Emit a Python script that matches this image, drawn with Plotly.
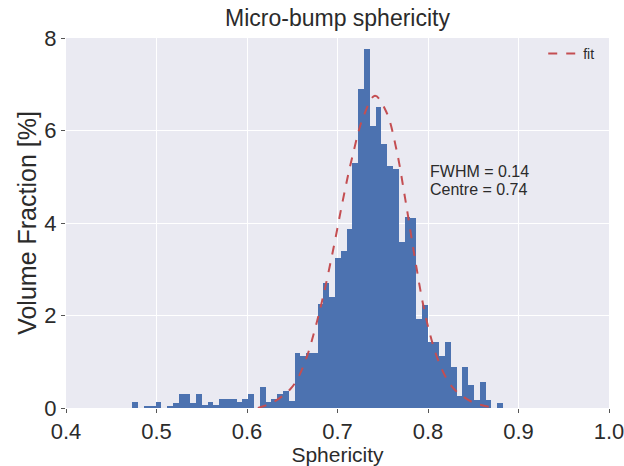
import plotly.graph_objects as go

# histogram data (volume fraction, %)
bin_start = 0.4733
bin_width = 0.0064
volume_fraction = [
    0.13, 0.0, 0.05, 0.05, 0.12, 0.0, 0.05, 0.115, 0.3, 0.3,
    0.115, 0.3, 0.06, 0.13, 0.07, 0.2, 0.2, 0.2, 0.13, 0.2,
    0.3, 0.0, 0.45, 0.13, 0.2, 0.3, 0.37, 0.15, 1.18, 1.12,
    1.18, 1.18, 2.24, 2.7, 2.4, 3.25, 3.4, 3.88, 5.3, 6.89,
    7.76, 6.1, 6.5, 5.7, 5.24, 5.17, 3.58, 4.12, 4.1, 1.92,
    2.23, 1.43, 1.43, 1.12, 1.43, 0.88, 0.26, 0.88, 0.5, 0.18,
    0.57, 0.17, 0.0, 0.1,
]
bin_centers = [bin_start + bin_width * (i + 0.5) for i in range(len(volume_fraction))]

# fit curve points
fit_x = [0.612, 0.620, 0.631, 0.640, 0.6475, 0.655, 0.666, 0.675, 0.684, 0.695,
         0.706, 0.716, 0.7286, 0.7414, 0.754, 0.765, 0.775, 0.785, 0.795, 0.805,
         0.815, 0.825, 0.835, 0.850, 0.869]
fit_y = [0.0, 0.05, 0.15, 0.27, 0.4, 0.6, 1.1, 1.7, 2.4, 3.4,
         4.5, 5.4, 6.3, 6.75, 6.4, 5.6, 4.5, 3.3, 2.2, 1.4,
         0.85, 0.5, 0.3, 0.12, 0.02]

x_ticks = [0.4, 0.5, 0.6, 0.7, 0.8, 0.9, 1.0]
x_tick_labels = ["0.4", "0.5", "0.6", "0.7", "0.8", "0.9", "1.0"]
y_ticks = [0, 2, 4, 6, 8]
fit_text = ["FWHM = 0.14", "Centre = 0.74"]

FONT = "Liberation Sans, Arial, sans-serif"
TXT = "#2b2b2b"

fig = go.Figure()
fig.add_trace(go.Bar(
    x=bin_centers, y=volume_fraction, width=bin_width,
    marker=dict(color="#4C72B0", line=dict(width=0)),
    showlegend=False,
))
fig.add_trace(go.Scatter(
    x=fit_x, y=fit_y, mode="lines", name="fit",
    line=dict(color="#C44E52", width=2, dash="dash", shape="spline"),
))

for txt, yv in zip(fit_text, [5.12, 4.72]):
    fig.add_annotation(
        x=0.8, y=yv, xref="x", yref="y", xanchor="left", yanchor="middle",
        text=txt, showarrow=False, align="left",
        font=dict(family=FONT, size=16, color=TXT),
    )

fig.update_layout(
    width=624, height=466,
    margin=dict(l=66, r=15, t=38, b=58, autoexpand=False),
    paper_bgcolor="white", plot_bgcolor="#EAEAF2",
    bargap=0,
    title=dict(text="Micro-bump sphericity", x=0.5, xref="paper", xanchor="center",
               y=0.962, yref="container", yanchor="middle",
               font=dict(family=FONT, size=23, color=TXT)),
    legend=dict(x=0.982, y=1.0, xanchor="right", yanchor="top",
                bgcolor="rgba(0,0,0,0)", font=dict(family=FONT, size=14, color=TXT)),
    font=dict(family=FONT, color=TXT),
)
fig.update_xaxes(
    range=[0.4, 1.0], tickvals=x_ticks, ticktext=x_tick_labels,
    showgrid=True, gridcolor="white", gridwidth=1, zeroline=False,
    ticks="outside", ticklen=4, tickcolor="#555555",
    tickfont=dict(family=FONT, size=22, color=TXT),
    ticklabeloverflow="allow",
    title=dict(text="Sphericity", font=dict(family=FONT, size=21, color=TXT), standoff=0),
    showline=False, automargin=False,
)
fig.update_yaxes(
    range=[0, 8], tickvals=y_ticks,
    showgrid=True, gridcolor="white", gridwidth=1, zeroline=False,
    ticks="outside", ticklen=4, tickcolor="#555555",
    tickfont=dict(family=FONT, size=22, color=TXT),
    ticklabeloverflow="allow",
    title=dict(text="Volume Fraction [%]", font=dict(family=FONT, size=25, color=TXT), standoff=0),
    showline=False, automargin=False,
)

fig.write_html("out.html")
